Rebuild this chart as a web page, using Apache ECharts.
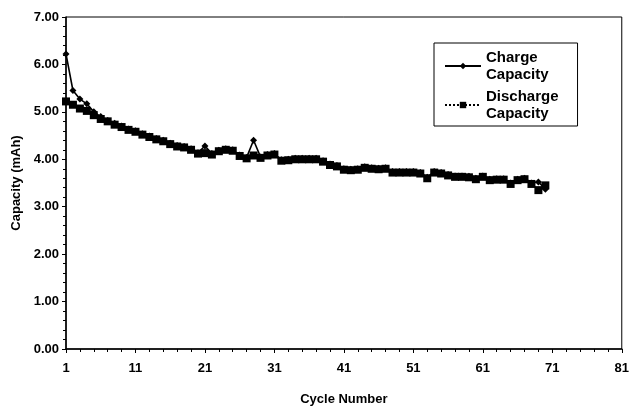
<!DOCTYPE html>
<html>
<head>
<meta charset="utf-8">
<script src="https://cdn.jsdelivr.net/npm/echarts@6/dist/echarts.min.js"></script>
<style>
  html, body { margin: 0; padding: 0; background: #fff; }
  #chart { width: 632px; height: 411px; }
</style>
</head>
<body>
<div id="chart"></div>
<script>
  // cycle numbers 1..70
  var cycles = [];
  for (var i = 1; i <= 70; i++) cycles.push(i);

  var chargeCap = [
    6.22, 5.45, 5.27, 5.17, 5.00, 4.90, 4.82, 4.76, 4.70, 4.64,
    4.60, 4.54, 4.49, 4.44, 4.40, 4.34, 4.29, 4.27, 4.22, 4.14,
    4.28, 4.12, 4.19, 4.22, 4.20, 4.09, 4.04, 4.40, 4.05, 4.10,
    4.12, 3.99, 4.00, 4.02, 4.02, 4.02, 4.02, 3.97, 3.90, 3.87,
    3.80, 3.79, 3.80, 3.84, 3.82, 3.81, 3.82, 3.74, 3.74, 3.74,
    3.74, 3.72, 3.62, 3.74, 3.72, 3.68, 3.65, 3.65, 3.64, 3.60,
    3.65, 3.58, 3.59, 3.59, 3.50, 3.58, 3.60, 3.50, 3.52, 3.37
  ];
  var dischargeCap = [
    5.22, 5.15, 5.07, 5.02, 4.93, 4.85, 4.80, 4.73, 4.68, 4.62,
    4.58, 4.52, 4.47, 4.42, 4.38, 4.32, 4.27, 4.25, 4.20, 4.12,
    4.13, 4.10, 4.17, 4.20, 4.18, 4.07, 4.02, 4.08, 4.03, 4.08,
    4.10, 3.97, 3.98, 4.00, 4.00, 4.00, 4.00, 3.95, 3.88, 3.85,
    3.78, 3.77, 3.78, 3.82, 3.80, 3.79, 3.80, 3.72, 3.72, 3.72,
    3.72, 3.70, 3.60, 3.72, 3.70, 3.66, 3.63, 3.63, 3.62, 3.58,
    3.63, 3.56, 3.57, 3.57, 3.48, 3.56, 3.58, 3.48, 3.35, 3.45
  ];

  var font = 'Liberation Sans, Arial, sans-serif';

  var chart = echarts.init(document.getElementById('chart'));
  chart.setOption({
    animation: false,
    backgroundColor: '#fff',
    grid: { left: 66, right: 5, top: 17, bottom: 61, show: true, borderColor: '#000', borderWidth: 1 },
    legend: {
      orient: 'vertical',
      left: 434, top: 43,
      width: 145,
      padding: [6, 19, 4, 10],
      itemGap: 5,
      itemWidth: 36,
      itemHeight: 8,
      borderColor: '#000',
      borderWidth: 1,
      backgroundColor: '#fff',
      textStyle: { color: '#000', fontFamily: font, fontWeight: 'bold', fontSize: 15, lineHeight: 17 },
      formatter: function (n) { return n.replace(' ', '\n'); },
      data: ['Charge Capacity', 'Discharge Capacity']
    },
    xAxis: {
      type: 'value',
      min: 1, max: 81, interval: 10,
      name: 'Cycle Number',
      nameLocation: 'middle',
      nameGap: 44,
      nameTextStyle: { color: '#000', fontFamily: font, fontWeight: 'bold', fontSize: 13 },
      axisLine: { lineStyle: { color: '#000', width: 1.5 } },
      axisTick: { inside: false, length: 4, lineStyle: { color: '#000' } },
      minorTick: { show: true, splitNumber: 5, length: 3, lineStyle: { color: '#000' } },
      splitLine: { show: false },
      axisLabel: { color: '#000', fontFamily: font, fontWeight: 'bold', fontSize: 13, margin: 13 }
    },
    yAxis: {
      type: 'value',
      min: 0, max: 7, interval: 1,
      name: 'Capacity (mAh)',
      nameLocation: 'middle',
      nameGap: 42,
      nameTextStyle: { color: '#000', fontFamily: font, fontWeight: 'bold', fontSize: 13 },
      axisLine: { show: true, lineStyle: { color: '#000', width: 1.5 } },
      axisTick: { show: true, length: 4, lineStyle: { color: '#000' } },
      minorTick: { show: true, splitNumber: 5, length: 3, lineStyle: { color: '#000' } },
      splitLine: { show: false },
      axisLabel: { color: '#000', fontFamily: font, fontWeight: 'bold', fontSize: 13, margin: 7,
        formatter: function (v) { return v.toFixed(2); } }
    },
    series: [
      {
        name: 'Charge Capacity',
        type: 'line',
        data: cycles.map(function (c, i) { return [c, chargeCap[i]]; }),
        symbol: 'diamond',
        symbolSize: 7,
        itemStyle: { color: '#000' },
        lineStyle: { color: '#000', width: 1.6 },
        z: 2
      },
      {
        name: 'Discharge Capacity',
        type: 'line',
        data: cycles.map(function (c, i) { return [c, dischargeCap[i]]; }),
        symbol: 'rect',
        symbolSize: 8,
        itemStyle: { color: '#000' },
        lineStyle: { color: '#000', width: 1.2, type: 'dotted' },
        z: 3
      }
    ]
  });
</script>
</body>
</html>
